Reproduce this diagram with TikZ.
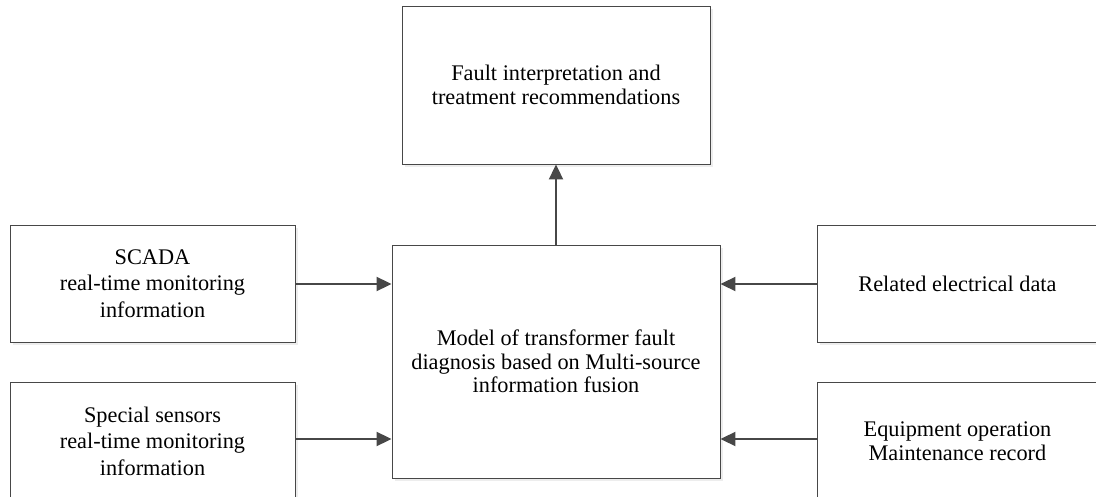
\documentclass[tikz,border=0pt]{standalone}
\usepackage{fontspec}
\setmainfont{Liberation Serif}
\usetikzlibrary{arrows.meta,shadows}
\begin{document}
\begin{tikzpicture}[x=1pt,y=-1pt,
  box/.style={draw=black!72, line width=0.9pt, fill=white, rectangle, inner sep=0pt,
    align=center, text=black,
    general shadow={fill=black!7, shadow xshift=3pt, shadow yshift=-3pt},
    font=\fontsize{22.3}{23.5}\selectfont},
  widebox/.style={box, font=\fontsize{22.3}{26.5}\selectfont},
  conn/.style={draw=black!72, line width=2pt, -{Triangle[length=15pt,width=14pt]}}
]
\useasboundingbox[fill=white] (0,0) rectangle (1096,497);
\node[box, minimum width=308pt, minimum height=158pt] (out) at (556,85)
  {Fault interpretation and\\treatment recommendations};
\node[box, minimum width=328pt, minimum height=233pt] (model) at (556,361.5)
  {Model of transformer fault\\diagnosis based on Multi-source\\information fusion};
\node[widebox, minimum width=285pt, minimum height=117pt] (scada) at (152.5,283.5)
  {SCADA\\real-time monitoring\\information};
\node[widebox, minimum width=285pt, minimum height=118pt] (sens) at (152.5,441)
  {Special sensors\\real-time monitoring\\information};
\node[box, minimum width=290pt, minimum height=117pt, anchor=west] (elec) at (817,283.5)
  {\hspace*{-10pt}Related electrical data};
\node[box, minimum width=290pt, minimum height=118pt, anchor=west] (equip) at (817,441)
  {\hspace*{-10pt}Equipment operation\\\hspace*{-10pt}Maintenance record};
\draw[conn] (scada.east |- 0,284) -- (model.west |- 0,284);
\draw[conn] (sens.east |- 0,439) -- (model.west |- 0,439);
\draw[conn] (elec.west |- 0,284) -- (model.east |- 0,284);
\draw[conn] (equip.west |- 0,439) -- (model.east |- 0,439);
\draw[conn] (model.north) -- (out.south);
\end{tikzpicture}
\end{document}
